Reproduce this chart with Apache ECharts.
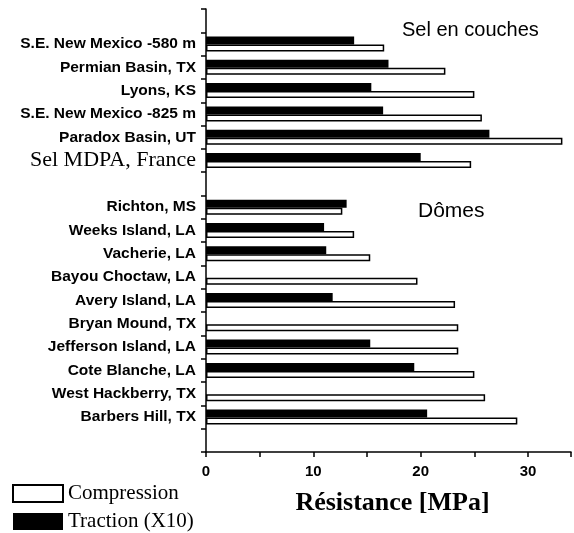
<!DOCTYPE html>
<html>
<head>
<meta charset="utf-8">
<script src="https://cdn.jsdelivr.net/npm/echarts@6/dist/echarts.min.js"></script>
<style>
html,body{margin:0;padding:0;background:#fff;}
#chart{width:574px;height:533px;}
</style>
</head>
<body>
<div id="chart"></div>
<script>
// Categories (top to bottom); empty strings are spacer rows
const layeredSites = ['S.E. New Mexico -580 m','Permian Basin, TX','Lyons, KS','S.E. New Mexico -825 m','Paradox Basin, UT','Sel MDPA, France'];
const domeSites = ['Richton, MS','Weeks Island, LA','Vacherie, LA','Bayou Choctaw, LA','Avery Island, LA','Bryan Mound, TX','Jefferson Island, LA','Cote Blanche, LA','West Hackberry, TX','Barbers Hill, TX'];

// Compression strength [MPa]
const layeredCompression = [16.6, 22.3, 25.0, 25.7, 33.2, 24.7];
const domeCompression = [12.7, 13.8, 15.3, 19.7, 23.2, 23.5, 23.5, 25.0, 26.0, 29.0];
// Tensile strength x10 [MPa]
const layeredTraction = [13.8, 17.0, 15.4, 16.5, 26.4, 20.0];
const domeTraction = [13.1, 11.0, 11.2, null, 11.8, null, 15.3, 19.4, null, 20.6];

const xTicks = [0, 10, 20, 30];

const categories = [''].concat(layeredSites, [' '], domeSites, ['  ']);
const compression = [null].concat(layeredCompression, [null], domeCompression, [null]);
const traction = [null].concat(layeredTraction, [null], domeTraction, [null]);

const chart = echarts.init(document.getElementById('chart'), null, {renderer:'canvas'});
chart.setOption({
  animation: false,
  backgroundColor: '#fff',
  grid: {left: 206, right: 2, top: 9, bottom: 81, containLabel: false},
  legend: {
    data: ['Compression', 'Traction (X10)'],
    orient: 'vertical',
    left: 12, top: 483, padding: 0,
    itemWidth: 50, itemHeight: 17, itemGap: 7,
    icon: 'rect',
    textStyle: {fontFamily: 'Liberation Serif', fontSize: 21, color: '#000', padding: [0,0,0,0]}
  },
  xAxis: {
    type: 'value', min: 0, max: 34, interval: 5,
    axisLine: {show: true, lineStyle: {color: '#000', width: 1.5}},
    axisTick: {show: true, length: 5, lineStyle: {color: '#000', width: 1.5}},
    splitLine: {show: false},
    axisLabel: {
      color: '#000', fontFamily: 'Liberation Sans', fontWeight: 'bold', fontSize: 15, margin: 12,
      formatter: v => xTicks.indexOf(v) >= 0 ? String(v) : ''
    },
    name: 'Résistance [MPa]', nameLocation: 'middle', nameGap: 38,
    nameTextStyle: {fontFamily: 'Liberation Serif', fontWeight: 'bold', fontSize: 26, color: '#000', padding: [0,0,0,8]}
  },
  yAxis: {
    type: 'category', inverse: true, data: categories,
    axisLine: {show: true, lineStyle: {color: '#000', width: 1.5}},
    axisTick: {show: true, length: 5, lineStyle: {color: '#000', width: 1.5}},
    axisLabel: {
      margin: 10, interval: 0,
      formatter: v => v.trim() === '' ? '' : (v === 'Sel MDPA, France' ? '{s|' + v + '}' : '{b|' + v + '}'),
      rich: {
        b: {fontFamily: 'Liberation Sans', fontWeight: 'bold', fontSize: 15.5, color: '#000'},
        s: {fontFamily: 'Liberation Serif', fontSize: 22, color: '#000'}
      }
    }
  },
  graphic: [
    {type: 'text', left: 402, top: 20, style: {text: 'Sel en couches', font: '20px "Liberation Sans"', fill: '#000'}},
    {type: 'text', left: 418, top: 201, style: {text: 'Dômes', font: '21px "Liberation Sans"', fill: '#000'}}
  ],
  series: [
    {
      name: 'Traction (X10)', type: 'bar', data: traction, barWidth: 8, barGap: '0%',
      itemStyle: {color: '#000', borderColor: '#000', borderWidth: 0}
    },
    {
      name: 'Compression', type: 'bar', data: compression, barWidth: 7, barGap: '0%',
      itemStyle: {color: '#fff', borderColor: '#000', borderWidth: 1.5}
    }
  ]
});
</script>
</body>
</html>
